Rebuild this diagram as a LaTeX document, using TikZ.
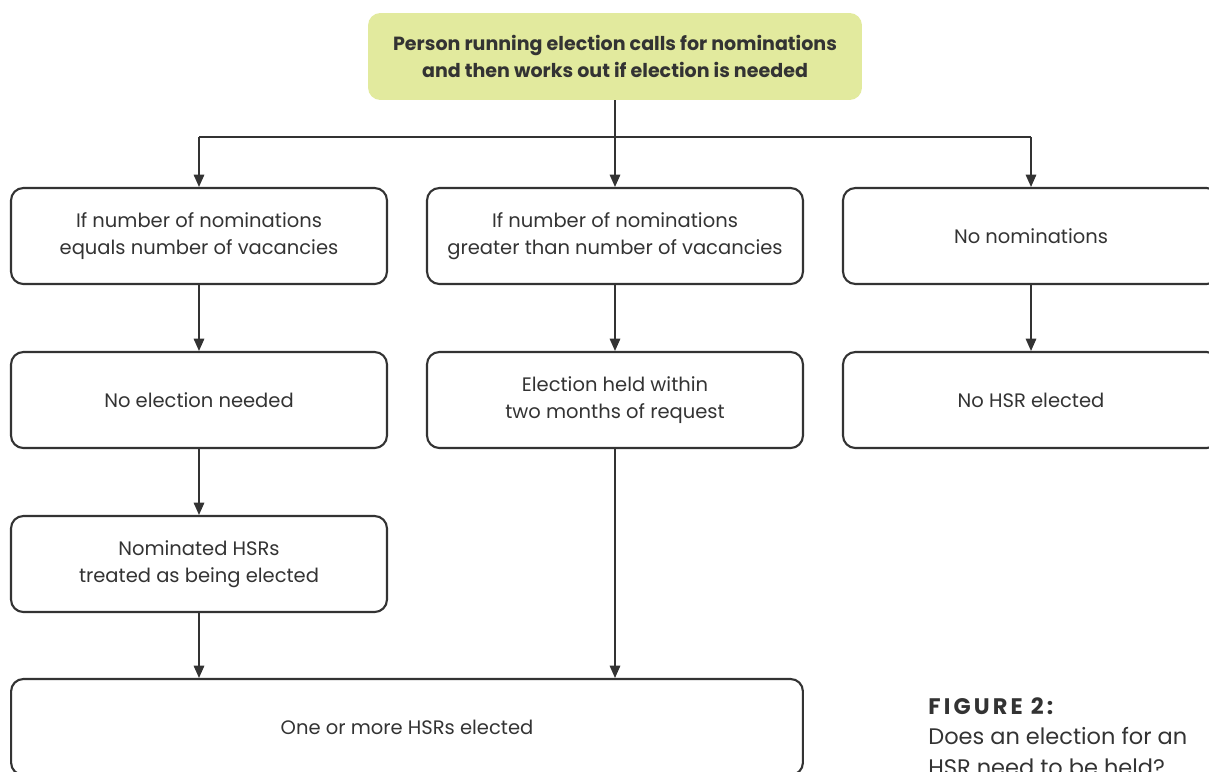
\documentclass[tikz,border=0pt]{standalone}
\usepackage{fontspec}
\setmainfont{Poppins}
\usepackage{tikz}
\usetikzlibrary{arrows.meta}

\definecolor{ink}{HTML}{333333}
\definecolor{lime}{HTML}{E2EA9E}

\tikzset{
	stepbox/.style={shape=rectangle,draw=ink,line width=1.2pt,rounded corners=7pt,
		minimum width=7.52cm,minimum height=1.92cm,inner sep=0pt,align=center,
		text=ink,font=\fontsize{11.1}{15.4}\selectfont},
	startbox/.style={shape=rectangle,fill=lime,rounded corners=7pt,
		minimum width=9.88cm,minimum height=1.74cm,inner sep=0pt,align=center,
		text=ink,font=\fontsize{10.85}{15.8}\selectfont\bfseries},
	flow/.style={draw=ink,line width=0.8pt,-{Triangle[length=7pt,width=6pt]}}
}

\begin{document}
\begin{tikzpicture}[x=0.02cm,y=-0.02cm]
	\useasboundingbox (0,0) rectangle (1209,771);
	\clip (0,0) rectangle (1209,771);

	\node[startbox] (start) at (615, 56.5) {Person running election calls for nominations\\and then works out if election is needed};

	\node[stepbox] (equal)   at (199, 236) {If number of nominations\\equals number of vacancies};
	\node[stepbox] (greater) at (615, 236) {If number of nominations\\greater than number of vacancies};
	\node[stepbox] (none)    at (1031, 236) {No nominations};

	\node[stepbox] (noelect) at (199, 400) {No election needed};
	\node[stepbox] (held)    at (615, 400) {Election held within\\two months of request};
	\node[stepbox] (nohsr)   at (1031, 400) {No HSR elected};

	\node[stepbox] (treated) at (199, 564) {Nominated HSRs\\treated as being elected};

	\node[stepbox,minimum width=15.84cm] (elected) at (407, 727) {One or more HSRs elected};

	\coordinate (splitL) at (199, 137);
	\coordinate (splitR) at (1031, 137);

	\draw[ink,line width=0.8pt] (splitL) -- (splitR);
	\draw[flow] (start) -- (greater);
	\draw[flow] (splitL) -- (equal);
	\draw[flow] (splitR) -- (none);

	\draw[flow] (equal) -- (noelect);
	\draw[flow] (greater) -- (held);
	\draw[flow] (none) -- (nohsr);
	\draw[flow] (noelect) -- (treated);
	\draw[flow] (treated) -- (treated |- elected.north);
	\draw[flow] (held) -- (held |- elected.north);

	\node[anchor=north west,inner sep=0pt,align=left,text=ink,
		font=\fontsize{12.8}{17.5}\selectfont] (caption) at (928, 697)
		{{\bfseries\addfontfeatures{LetterSpace=14}FIGURE 2:}\\Does an election for an\\HSR need to be held?};
\end{tikzpicture}
\end{document}
